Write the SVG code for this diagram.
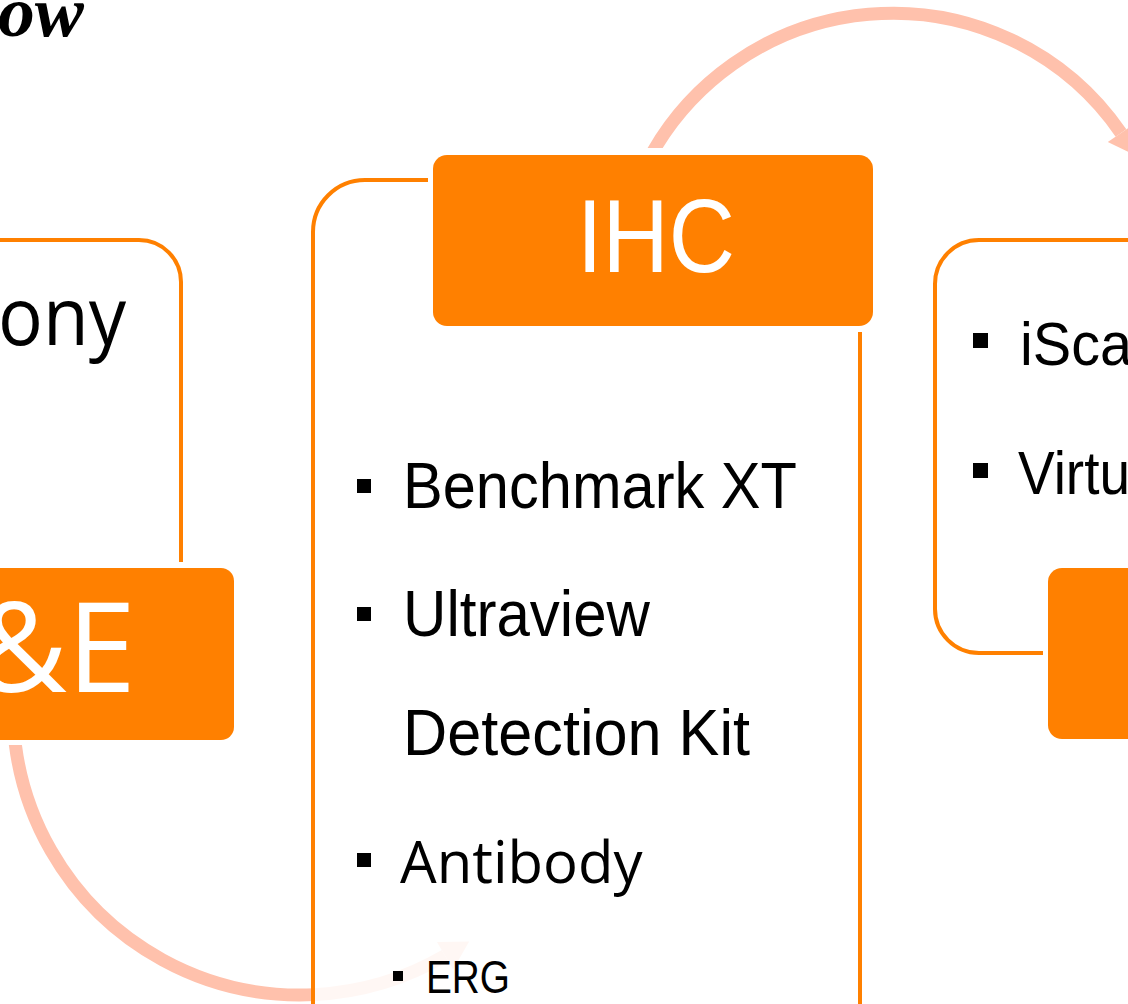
<svg xmlns="http://www.w3.org/2000/svg" width="1128" height="1004" viewBox="0 0 1128 1004">
<style>
.outline{fill:none;stroke:#FF8000;stroke-width:4}
.box{fill:#FF8000}
.arc{fill:none;stroke:#FFC1AC;stroke-width:13}
.head{fill:#FFC1AC}
.narrow{font-family:"Liberation Sans Narrow","Liberation Sans",Arial,sans-serif;fill:#000}
.human{font-family:"Open Sans","Noto Sans",sans-serif;fill:#000}
.white{fill:#FFFFFF}
.bullet{fill:#000}
</style>
<defs>
<clipPath id="clipTop"><rect x="0" y="0" width="1128" height="148"/><rect x="950" y="0" width="178" height="300"/></clipPath>
<clipPath id="clipBottom"><rect x="0" y="745" width="1128" height="259"/></clipPath>
</defs>
<rect width="1128" height="1004" fill="#FFFFFF"/>

<text x="84" y="36" text-anchor="end" font-family="Liberation Serif" font-weight="bold" font-style="italic" font-size="72" textLength="86" lengthAdjust="spacingAndGlyphs" fill="#000">ow</text>

<g id="connectors">
<g clip-path="url(#clipTop)">
<path class="arc" d="M641,175 A277 277 0 0 1 1121,133"/>
<polygon class="head" points="1107.8,142.1 1134,124 1137,156"/>
</g>
<g clip-path="url(#clipBottom)">
<path class="arc" d="M13.3,720 A287 287 0 0 0 445,955.7"/>
<polygon class="head" points="453.1,969.5 436.9,941.9 469.2,941.6"/>
</g>
</g>

<g id="node-left-panel">
<path class="outline" d="M-10,240 H139 A42 42 0 0 1 181,282 V562"/>
<text class="human" x="126" y="345" text-anchor="end" font-size="80" textLength="128" lengthAdjust="spacingAndGlyphs">ony</text>
</g>

<g id="node-he">
<rect class="box" x="-20" y="568" width="254" height="172" rx="13"/>
<text class="human white" x="136" y="692" text-anchor="end" font-size="124">&amp;E</text>
</g>

<g id="node-ihc-panel">
<path d="M313,232 A52 52 0 0 1 365,180 H860 V1010 H313 Z" fill="#FFFFFF" fill-opacity="0.87"/>
<path class="outline" d="M428,180 H365 A52 52 0 0 0 313,232 V1010"/>
<path class="outline" d="M860,332 V1010"/>
<rect class="bullet" x="357" y="479" width="14" height="14"/>
<text class="narrow" x="403" y="508" font-size="64" textLength="394" lengthAdjust="spacingAndGlyphs">Benchmark XT</text>
<rect class="bullet" x="357" y="607" width="14" height="14"/>
<text class="narrow" x="403" y="636" font-size="64" textLength="247" lengthAdjust="spacingAndGlyphs">Ultraview</text>
<text class="narrow" x="403" y="755" font-size="64" textLength="347" lengthAdjust="spacingAndGlyphs">Detection Kit</text>
<rect class="bullet" x="357" y="853" width="14" height="14"/>
<text class="human" x="400" y="883" font-size="58">Antibody</text>
<rect class="bullet" x="393" y="971" width="10" height="10"/>
<text class="narrow" x="426" y="993" font-size="46" textLength="84" lengthAdjust="spacingAndGlyphs">ERG</text>
</g>

<g id="node-ihc">
<rect class="box" x="433" y="155" width="440" height="171" rx="14"/>
<text class="narrow white" x="577" y="272" font-size="103" textLength="158" lengthAdjust="spacingAndGlyphs">IHC</text>
</g>

<g id="node-right-panel">
<path class="outline" d="M1140,240 H979 A44 44 0 0 0 935,284 V609 A44 44 0 0 0 979,653 H1043"/>
<rect class="bullet" x="973" y="333" width="15" height="15"/>
<text class="narrow" x="1020" y="365" font-size="62" textLength="112" lengthAdjust="spacingAndGlyphs">iSca</text>
<rect class="bullet" x="973" y="463" width="15" height="15"/>
<text class="narrow" x="1018" y="494" font-size="62" textLength="112" lengthAdjust="spacingAndGlyphs">Virtu</text>
</g>

<g id="node-right">
<rect class="box" x="1048" y="568" width="120" height="171" rx="14"/>
</g>
</svg>
